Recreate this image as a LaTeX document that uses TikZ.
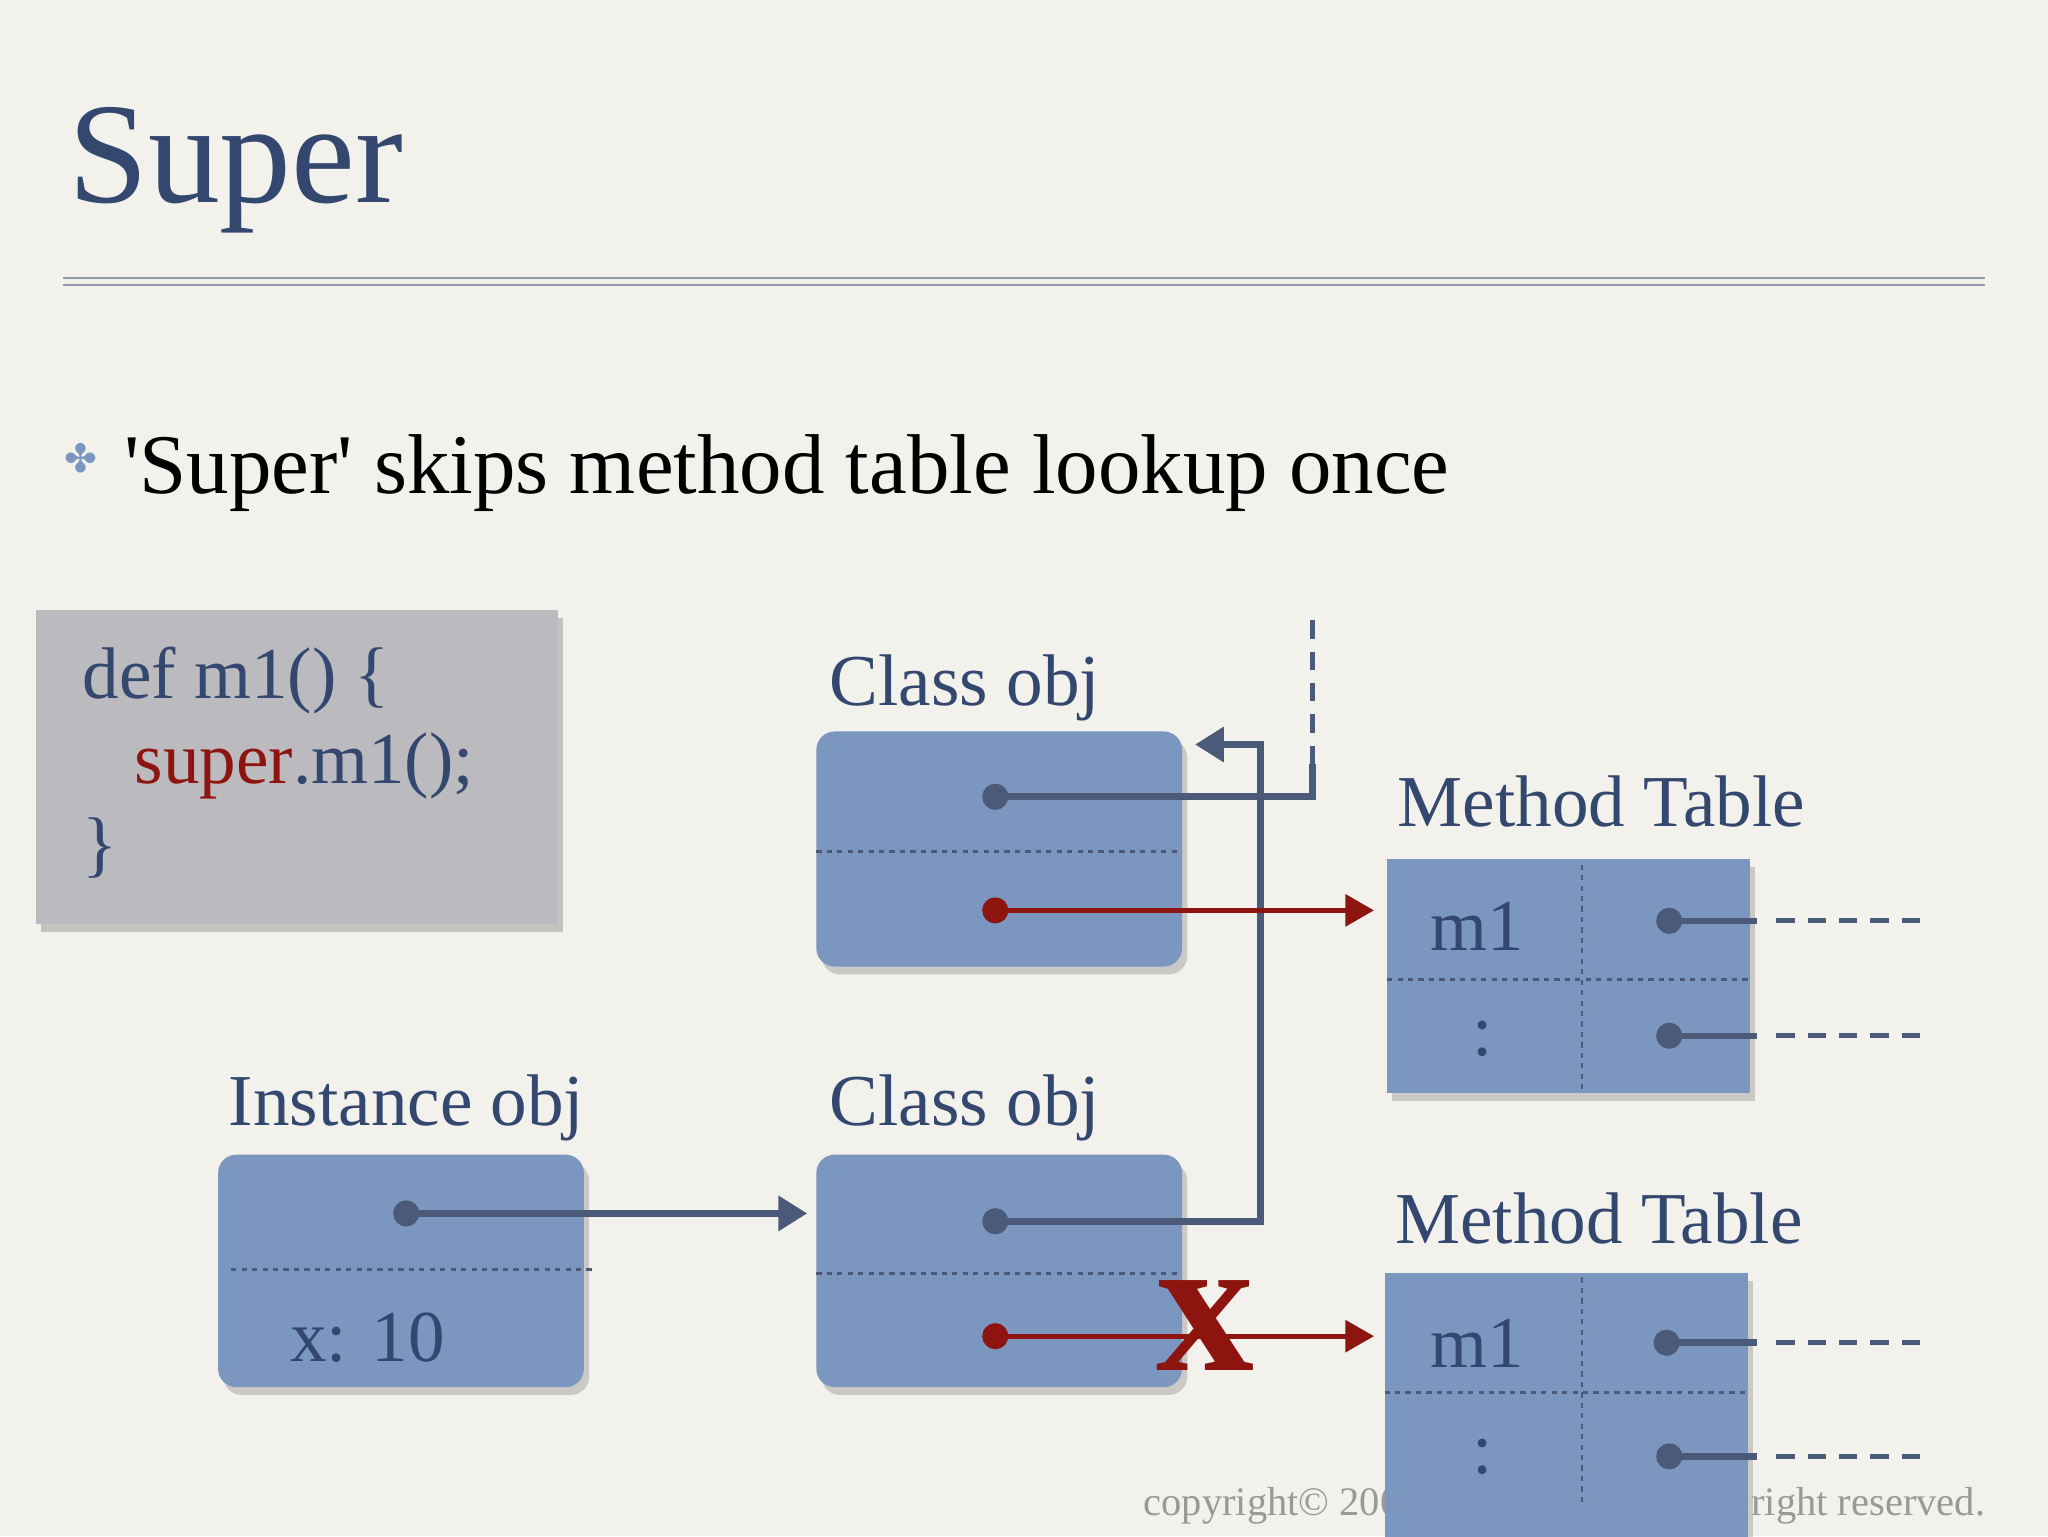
\documentclass[tikz,border=0pt]{standalone}
\usepackage{fontspec}
\setmainfont{Liberation Serif}
\newfontfamily\symfont{DejaVu Sans}
\usetikzlibrary{arrows.meta,shadows}
\definecolor{bg}{HTML}{F2F1EC}
\definecolor{ttl}{HTML}{34476E}
\definecolor{boxc}{HTML}{7B96BF}
\definecolor{lnc}{HTML}{4A5A78}
\definecolor{redc}{HTML}{8E1410}
\definecolor{codeb}{HTML}{BBBBBF}
\tikzset{
  obj/.style={fill=boxc, rounded corners=14pt, drop shadow={opacity=0.35,shadow xshift=4pt,shadow yshift=-6pt}},
  tbl/.style={fill=boxc, drop shadow={opacity=0.35,shadow xshift=4pt,shadow yshift=-6pt}},
  sep/.style={lnc, dashed, dash pattern=on 4pt off 4pt, line width=1.8pt},
  ptr/.style={lnc, line width=5pt},
  rptr/.style={redc, line width=4pt},
  dot/.style={circle, fill=lnc, inner sep=0pt, minimum size=20pt},
  rdot/.style={circle, fill=redc, inner sep=0pt, minimum size=20pt},
  lbl/.style={anchor=base west, inner sep=0pt, text=ttl, font=\fontsize{56}{56}\selectfont},
  tail/.style={lnc, line width=4pt, dash pattern=on 14pt off 10pt},
}
\begin{document}
\begin{tikzpicture}[x=1pt,y=-1pt]
\fill[bg] (0,0) rectangle (1568,1176);
\useasboundingbox (0,0) rectangle (1568,1176);
% title
\node[lbl, font=\fontsize{110}{110}\selectfont] (title) at (52,155) {Super};
\draw[color=ttl!55, line width=1.2pt] (48,213) -- (1520,213) (48,218) -- (1520,218);
% bullet
\node[anchor=base, inner sep=0pt, text=boxc, font=\symfont\fontsize{30}{30}\selectfont] (bul) at (62,362) {✤};
\node[anchor=base west, inner sep=0pt, font=\fontsize{65}{65}\selectfont] (bt) at (95,378) {\textquotesingle Super\textquotesingle{} skips method table lookup once};
% code box
\node[fill=codeb, minimum width=400pt, minimum height=240pt, anchor=north west, drop shadow={opacity=0.4,shadow xshift=4pt,shadow yshift=-6pt}] (code) at (27,467) {};
\node[lbl] (c1) at (63,535) {def m1() \{};
\node[lbl] (c2) at (103,600) {\textcolor{redc}{super}.m1();};
\node[lbl] (c3) at (63,665) {\}};
% copyright (behind)
\node[anchor=base east, inner sep=0pt, text=gray!80, font=\fontsize{31}{31}\selectfont] (copy) at (1520,1160) {copyright© 2009 kuwata-lab.com all right reserved.};
% labels
\node[lbl] (l1) at (635,540) {Class obj};
\node[lbl] (l2) at (1070,633) {Method Table};
\node[lbl] (l3) at (175,862) {Instance obj};
\node[lbl] (l4) at (635,862) {Class obj};
\node[lbl] (l5) at (1068,952) {Method Table};
% class obj top
\path[obj] (625,560) rectangle (905,740);
\draw[sep] (625,652) -- (905,652);
% class obj bottom
\path[obj] (625,884) rectangle (905,1062);
\draw[sep] (625,975) -- (905,975);
% instance obj
\path[obj] (167,884) rectangle (447,1062);
\draw[sep] (177,972) -- (455,972);
\node[lbl] (x10) at (222,1042) {x: 10};
% method tables
\path[tbl] (1062,658) rectangle (1340,837);
\draw[sep] (1211,662) -- (1211,837) (1062,750) -- (1340,750);
\node[lbl] (m1a) at (1095,728) {m1};
\node[lbl] (ca) at (1127,808) {:};
\path[tbl] (1060,975) rectangle (1338,1180);
\draw[sep] (1211,978) -- (1211,1150) (1060,1066) -- (1338,1066);
\node[lbl] (m1b) at (1095,1047) {m1};
\node[lbl] (cb) at (1127,1128) {:};
% dots
\node[dot] (d1) at (762,610) {};
\node[rdot] (d2) at (762,697) {};
\node[dot] (d3) at (762,935) {};
\node[rdot] (d4) at (762,1023) {};
\node[dot] (d5) at (311,929) {};
\node[dot] (t1) at (1278,705) {};
\node[dot] (t2) at (1278,793) {};
\node[dot] (t3) at (1276,1028) {};
\node[dot] (t4) at (1278,1115) {};
\coordinate (up) at (1005,467);
\coordinate (a1) at (915,570);
\coordinate (ma) at (1052,697);
\coordinate (mb) at (1052,1023);
\coordinate (cl) at (618,929);
% connectors
\draw[ptr] (d1.center) -- (1005,610) -- (1005,585);
\draw[tail] (1005,585) -- (up);
\draw[ptr, -{Triangle[length=22pt,width=26pt]}] (d3.center) -- (965,935) -- (965,570) -- (a1);
\draw[rptr, -{Triangle[length=22pt,width=24pt]}] (d2.center) -- (ma);
\draw[rptr, -{Triangle[length=22pt,width=24pt]}] (d4.center) -- (mb);
\draw[ptr, -{Triangle[length=22pt,width=26pt]}] (d5.center) -- (cl);
\foreach \t/\y in {t1/705,t2/793,t3/1028,t4/1115}{
  \draw[ptr] (\t.center) -- (1345,\y);
  \draw[tail] (1360,\y) -- (1470,\y);
}
% red X
\node[text=redc, font=\fontsize{150}{150}\selectfont\bfseries, inner sep=0pt] (xx) at (923,1015) {x};
\end{tikzpicture}
\end{document}
